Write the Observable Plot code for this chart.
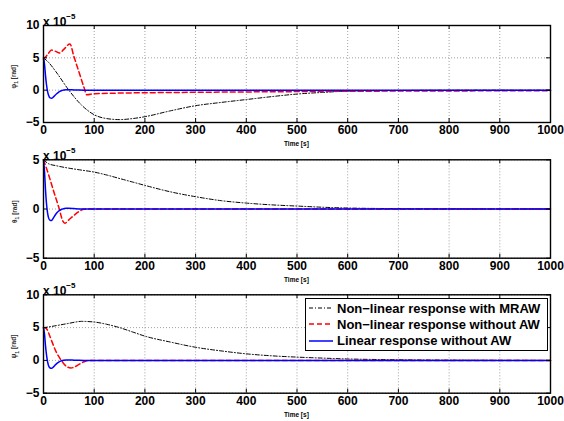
<!DOCTYPE html>
<html><head><meta charset="utf-8">
<script src="https://cdn.jsdelivr.net/npm/d3@7"></script>
<script src="https://cdn.jsdelivr.net/npm/@observablehq/plot@0.6"></script>
<style>
body{margin:0;background:#fff;}
#chart{position:relative;width:564px;height:421px;background:#fff;font-family:"Liberation Sans",Arial,sans-serif;overflow:hidden;}
.abs{position:absolute;white-space:nowrap;}
.mult{font-weight:bold;font-size:12px;line-height:12px;}
.mult sup{font-size:8px;position:relative;top:-2px;}
.ylab{font-size:6.5px;font-weight:bold;color:#333;transform:rotate(-90deg);transform-origin:center center;}
.xlab{font-size:6.5px;font-weight:bold;}
.legend{border:1px solid #000;background:#fff;font-weight:bold;font-size:13px;box-sizing:border-box;}
.legend .row{display:flex;align-items:center;height:16.3px;}
.legend svg{margin-right:3px;}
</style></head>
<body><div id="chart"></div>
<script>
// ---- data (values in units of 1e-5 rad, time in s) ----
const xTicks = [0,100,200,300,400,500,600,700,800,900,1000];
const yTicksWide = [-5,0,5,10];
const yTicksNarrow = [-5,0,5];
const seriesNames = ["Non\u2212linear response with MRAW","Non\u2212linear response without AW","Linear response without AW"];

// Linear response without AW
const tLin = [0,2,4,6,8,10,13,16,19,22,26,30,35,40,45,50,60,70,80,100,200,400,600,800,1000];
const phiLin = [5,4.0,2.2,0.8,-0.2,-0.8,-1.2,-1.25,-1.1,-0.85,-0.55,-0.3,-0.1,0.02,0.08,0.08,0.04,0.01,0,0,0,0,0,0,0];
const thetaLin = [5,3.8,1.9,0.5,-0.4,-0.9,-1.15,-1.17,-0.95,-0.7,-0.4,-0.2,-0.05,0.03,0.08,0.07,0.04,0.01,0,0,0,0,0,0,0];
const psiLin = [5,4.0,2.2,0.8,-0.2,-0.8,-1.15,-1.2,-1.05,-0.8,-0.5,-0.28,-0.08,0.03,0.08,0.07,0.04,0.01,0,0,0,0,0,0,0];

// Non-linear response with MRAW
const tMraw = [0,10,25,50,75,100,125,150,175,200,250,300,350,400,450,500,550,600,700,800,900,1000];
const phiMraw = [5,4.3,2.8,0,-2.3,-3.8,-4.4,-4.55,-4.4,-4.1,-3.2,-2.4,-1.9,-1.45,-1.0,-0.6,-0.35,-0.15,-0.05,0,0,0];
const thetaMraw = [5,4.6,4.4,4.15,3.95,3.75,3.45,3.1,2.75,2.4,1.75,1.25,0.85,0.6,0.42,0.3,0.18,0.1,0.04,0.02,0.01,0];
const psiMraw = [5,5.1,5.3,5.65,5.95,5.85,5.5,5.0,4.35,3.7,2.8,2.0,1.45,1.0,0.7,0.5,0.35,0.22,0.1,0.04,0.02,0];

// Non-linear response without AW
const tPhiNoAw = [0,8,16,24,32,40,52,60,70,80,85,100,150,200,300,400,500,600,700,800,900,1000];
const phiNoAw = [4.8,5.5,6.2,6.0,5.75,6.3,7.15,5.2,2.8,0.4,-0.7,-0.55,-0.45,-0.4,-0.33,-0.27,-0.22,-0.17,-0.14,-0.12,-0.1,-0.1];
const tThetaNoAw = [0,10,20,30,38,42,50,60,70,80,90,200,400,600,800,1000];
const thetaNoAw = [5,3.5,1.8,0.2,-1.2,-1.45,-1.1,-0.65,-0.25,-0.02,0,0,0,0,0,0];
const tPsiNoAw = [0,5,10,15,20,25,30,35,40,47,54,60,70,80,90,200,400,600,800,1000];
const psiNoAw = [5,4.9,4.2,3.2,2.2,1.3,0.6,0,-0.5,-1.0,-1.15,-1.05,-0.6,-0.2,0,0,0,0,0,0];

// ---- styles ----
const styles = [
  {stroke:"#000", strokeWidth:1, dash:"4,2,1,2"},
  {stroke:"#ff0000", strokeWidth:1.5, dash:"5,3"},
  {stroke:"#0000ff", strokeWidth:1.5, dash:null}
];

const chart = document.getElementById("chart");
const W = 564, ML = 43, MR = 14;

function toRows(t, v){ return t.map((d,i)=>({t:d, v:v[i]})); }

function panel({top, height, mt, mb, domain, yTicks, data, ylabel}){
  const [y0,y1] = domain;
  const pyu = (height-mt-mb)/(y1-y0);
  const tly = 4/pyu;
  const tlx = 4*1000/(W-ML-MR);
  const marks = [
    Plot.gridX(xTicks, {stroke:"#8a8a8a", strokeOpacity:1, strokeWidth:0.8, strokeDasharray:"1,2"}),
    Plot.gridY(yTicks, {stroke:"#8a8a8a", strokeOpacity:1, strokeWidth:0.8, strokeDasharray:"1,2"}),
  ];
  [0,1,2].forEach(k=>{
    const s = styles[k];
    marks.push(Plot.line(toRows(data[k][0], data[k][1]), {x:"t", y:"v", stroke:s.stroke, strokeWidth:s.strokeWidth, strokeDasharray:s.dash, curve:"monotone-x"}));
  });
  marks.push(
    Plot.ruleX(xTicks, {x:d=>d, y1:()=>y0, y2:()=>y0+tly, stroke:"#000"}),
    Plot.ruleX(xTicks, {x:d=>d, y1:()=>y1, y2:()=>y1-tly, stroke:"#000"}),
    Plot.ruleY(yTicks, {y:d=>d, x1:()=>0, x2:()=>tlx, stroke:"#000"}),
    Plot.ruleY(yTicks, {y:d=>d, x1:()=>1000, x2:()=>1000-tlx, stroke:"#000"}),
    Plot.frame({stroke:"#000", strokeWidth:1.4}),
    Plot.axisX(xTicks, {tickSize:0, tickPadding:3, fontWeight:"bold", fontSize:12, label:null, tickFormat:d=>String(d)}),
    Plot.axisY(yTicks, {tickSize:0, tickPadding:4, fontWeight:"bold", fontSize:12, label:null, tickFormat:d=>d<0?"\u2212"+Math.abs(d):String(d)})
  );
  const svg = Plot.plot({
    width:W, height, marginTop:mt, marginBottom:mb, marginLeft:ML, marginRight:MR,
    x:{domain:[0,1000]}, y:{domain},
    style:{fontFamily:"Liberation Sans, Arial, sans-serif", color:"#000", background:"transparent", overflow:"visible"},
    marks
  });
  svg.style.position = "absolute";
  svg.style.left = "0px";
  svg.style.top = top + "px";
  chart.appendChild(svg);

  const frameTop = top + mt, frameBot = top + height - mb;
  const m = document.createElement("div");
  m.className = "abs mult";
  m.style.left = "43px";
  m.style.top = (frameTop - 12) + "px";
  m.innerHTML = "x 10<sup>\u22125</sup>";
  chart.appendChild(m);
  const xl = document.createElement("div");
  xl.className = "abs xlab";
  xl.textContent = "Time [s]";
  xl.style.left = "284px";
  xl.style.top = (frameBot + 18) + "px";
  chart.appendChild(xl);
  const yl = document.createElement("div");
  yl.className = "abs ylab";
  yl.innerHTML = ylabel;
  chart.appendChild(yl);
  const wdt = yl.offsetWidth, hgt = yl.offsetHeight;
  yl.style.left = (15 - wdt/2) + "px";
  yl.style.top = ((frameTop+frameBot)/2 + 3 - hgt/2) + "px";
}

panel({top:0, height:140, mt:25, mb:18, domain:[-5,10], yTicks:yTicksWide,
  data:[[tMraw,phiMraw],[tPhiNoAw,phiNoAw],[tLin,phiLin]], ylabel:"\u03c6<sub style='font-size:5px'>1</sub> [rad]"});
panel({top:140, height:140, mt:19.3, mb:22.3, domain:[-5,5], yTicks:yTicksNarrow,
  data:[[tMraw,thetaMraw],[tThetaNoAw,thetaNoAw],[tLin,thetaLin]], ylabel:"\u03b8<sub style='font-size:5px'>1</sub> [rad]"});
panel({top:280, height:141, mt:14.3, mb:28.3, domain:[-5,10], yTicks:yTicksWide,
  data:[[tMraw,psiMraw],[tPsiNoAw,psiNoAw],[tLin,psiLin]], ylabel:"\u03c8<sub style='font-size:5px'>1</sub> [rad]"});

// legend
const lg = document.createElement("div");
lg.className = "abs legend";
lg.style.left = "305px";
lg.style.top = "298px";
lg.style.width = "243px";
lg.style.height = "53px";
lg.style.padding = "1px 0 1px 2px";
seriesNames.forEach((name,k)=>{
  const s = styles[k];
  const row = document.createElement("div");
  row.className = "row";
  row.innerHTML = `<svg width="26" height="10"><line x1="1" y1="5" x2="25" y2="5" stroke="${s.stroke}" stroke-width="${s.strokeWidth}" ${s.dash?`stroke-dasharray="${s.dash}"`:""}/></svg><span>${name}</span>`;
  lg.appendChild(row);
});
chart.appendChild(lg);
</script>
</body></html>
